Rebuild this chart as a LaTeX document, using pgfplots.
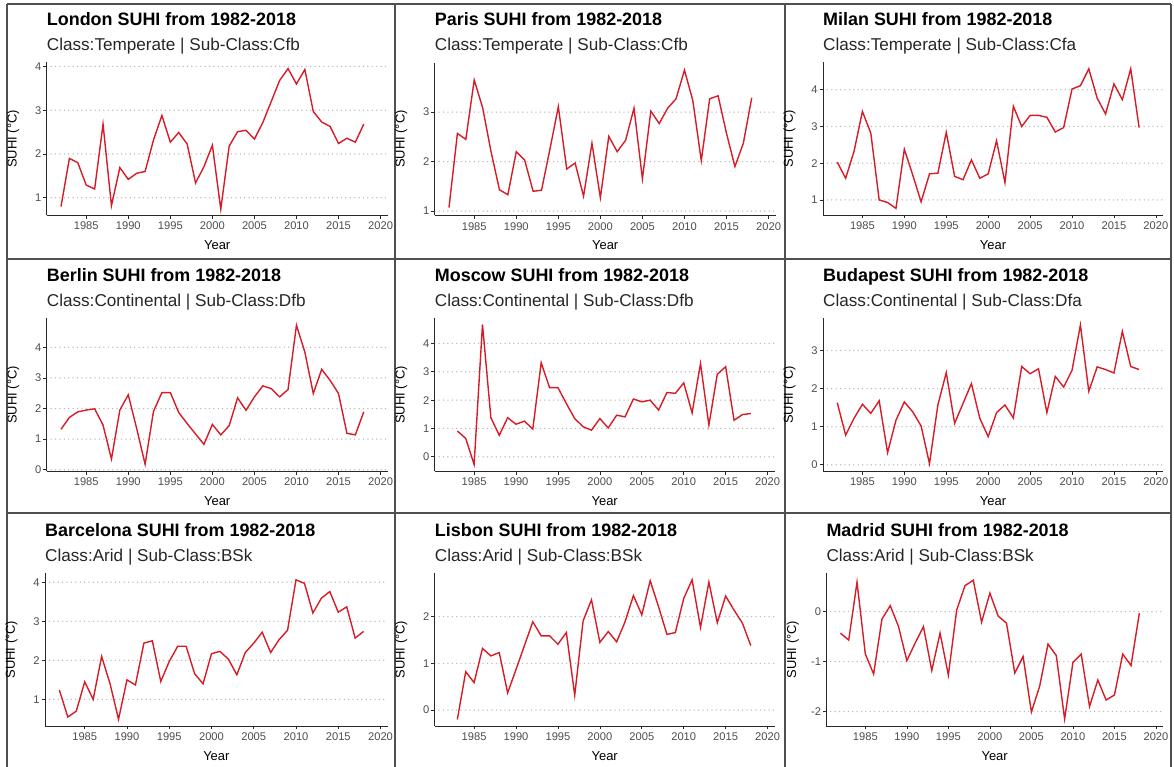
\documentclass[border=0pt]{standalone}
\usepackage{fontspec}
\setmainfont{Liberation Sans}
\usepackage{pgfplots}
\pgfplotsset{compat=1.18}
\definecolor{suhired}{RGB}{214,28,38}
\definecolor{ticktext}{RGB}{77,77,77}
\definecolor{axisline}{RGB}{40,40,40}
\definecolor{framecol}{RGB}{80,80,80}
\pgfplotsset{
  suhi/.style={
    scale only axis, height=152.8bp,
    xmin=1980.3, xmax=2020.85,
    axis lines=left,
    axis line style={-, draw=axisline, line width=0.8bp},
    xtick={1985,1990,...,2020},
    tick align=outside, major tick length=3.3bp,
    tick style={draw=axisline, line width=0.7bp},
    /pgf/number format/assume math mode=true,
    /pgf/number format/1000 sep={},
    tick label style={font=\fontsize{11.2}{12}\selectfont, text=ticktext},
    y tick label style={xshift=1.5bp},
    ymajorgrids,
    grid style={line width=1.5bp, line cap=round, dash pattern=on 0bp off 4.4bp, color=gray!55},
    xlabel={Year}, ylabel={SUHI (°C)},
    every axis x label/.style={at={(axis description cs:0.5,0)}, anchor=base, yshift=-34.3bp, font=\fontsize{13}{14}\selectfont},
    every axis y label/.style={at={(axis description cs:0,0.5)}, anchor=center, xshift=-33.5bp, rotate=90, font=\fontsize{13}{14}\selectfont},
  },
  suhiline/.style={draw=suhired, line width=1.4bp, mark=none},
}
\newcommand{\ptitle}[3]{%
  \node[anchor=base west, inner sep=0pt, font=\fontsize{18}{20}\selectfont\bfseries] at ([yshift=36.7bp]#1.north west) {#2};
  \node[anchor=base west, inner sep=0pt, font=\fontsize{17.2}{19}\selectfont, text=black!85] at ([yshift=12bp]#1.north west) {#3};
}
\begin{document}
\begin{tikzpicture}[x=1bp,y=1bp]
\useasboundingbox (0,0) rectangle (1174,767);
% frames
\begin{scope}[draw=framecol, line width=1.3bp]
\draw (7,0) -- (7,763);
\draw (395,0) -- (395,763);
\draw (785,0) -- (785,763);
\draw (1171,0) -- (1171,763);
\draw (7,763) -- (1171,763);
\draw (7,508) -- (1171,508);
\draw (7,254) -- (1171,254);
\end{scope}
\coordinate (pa1) at (46.7,551.7);
\coordinate (pa2) at (434.7,551.5);
\coordinate (pa3) at (823,552);
\coordinate (pb1) at (46.7,295.7);
\coordinate (pb2) at (434.7,295.7);
\coordinate (pb3) at (823,295.7);
\coordinate (pc1) at (45,41);
\coordinate (pc2) at (434.7,41);
\coordinate (pc3) at (826.3,41);

% London
\begin{axis}[suhi, name=a1, at={(pa1)}, anchor=south west, width=341bp,
  ymin=0.60, ymax=4.09, ytick={1,2,3,4}]
\addplot[suhiline] coordinates {(1982,0.80)(1983,1.90)(1984,1.80)(1985,1.29)(1986,1.20)(1987,2.68)(1988,0.82)(1989,1.69)(1990,1.42)(1991,1.56)(1992,1.60)(1993,2.32)(1994,2.88)(1995,2.27)(1996,2.49)(1997,2.23)(1998,1.34)(1999,1.71)(2000,2.20)(2001,0.74)(2002,2.18)(2003,2.51)(2004,2.54)(2005,2.34)(2006,2.72)(2007,3.20)(2008,3.68)(2009,3.95)(2010,3.60)(2011,3.93)(2012,2.97)(2013,2.73)(2014,2.63)(2015,2.24)(2016,2.36)(2017,2.27)(2018,2.68)};
\end{axis}
\ptitle{a1}{London SUHI from 1982-2018}{Class:Temperate | Sub-Class:Cfb}

% Paris
\begin{axis}[suhi, name=a2, at={(pa2)}, anchor=south west, width=341bp,
  ymin=0.91, ymax=4.0, ytick={1,2,3}]
\addplot[suhiline] coordinates {(1982,1.07)(1983,2.57)(1984,2.45)(1985,3.65)(1986,3.09)(1987,2.20)(1988,1.43)(1989,1.33)(1990,2.20)(1991,2.03)(1992,1.40)(1993,1.42)(1994,2.25)(1995,3.11)(1996,1.85)(1997,1.97)(1998,1.30)(1999,2.37)(2000,1.27)(2001,2.51)(2002,2.20)(2003,2.43)(2004,3.08)(2005,1.65)(2006,3.02)(2007,2.77)(2008,3.08)(2009,3.27)(2010,3.85)(2011,3.23)(2012,2.02)(2013,3.27)(2014,3.33)(2015,2.57)(2016,1.90)(2017,2.37)(2018,3.29)};
\end{axis}
\ptitle{a2}{Paris SUHI from 1982-2018}{Class:Temperate | Sub-Class:Cfb}

% Milan
\begin{axis}[suhi, name=a3, at={(pa3)}, anchor=south west, width=340bp,
  ymin=0.59, ymax=4.75, ytick={1,2,3,4}]
\addplot[suhiline] coordinates {(1982,2.03)(1983,1.59)(1984,2.32)(1985,3.41)(1986,2.82)(1987,1.00)(1988,0.93)(1989,0.77)(1990,2.38)(1991,1.68)(1992,0.95)(1993,1.71)(1994,1.73)(1995,2.84)(1996,1.64)(1997,1.55)(1998,2.09)(1999,1.59)(2000,1.71)(2001,2.61)(2002,1.47)(2003,3.55)(2004,3.00)(2005,3.30)(2006,3.30)(2007,3.25)(2008,2.85)(2009,2.97)(2010,4.02)(2011,4.11)(2012,4.57)(2013,3.77)(2014,3.34)(2015,4.16)(2016,3.73)(2017,4.57)(2018,2.97)};
\end{axis}
\ptitle{a3}{Milan SUHI from 1982-2018}{Class:Temperate | Sub-Class:Cfa}

% Berlin
\begin{axis}[suhi, name=b1, at={(pb1)}, anchor=south west, width=341bp,
  ymin=-0.05, ymax=4.94, ytick={0,1,2,3,4}]
\addplot[suhiline] coordinates {(1982,1.32)(1983,1.71)(1984,1.89)(1985,1.95)(1986,1.99)(1987,1.46)(1988,0.35)(1989,1.95)(1990,2.45)(1991,1.35)(1992,0.18)(1993,1.91)(1994,2.52)(1995,2.52)(1996,1.87)(1997,1.51)(1998,1.17)(1999,0.83)(2000,1.48)(2001,1.14)(2002,1.44)(2003,2.35)(2004,1.94)(2005,2.38)(2006,2.74)(2007,2.65)(2008,2.38)(2009,2.62)(2010,4.72)(2011,3.84)(2012,2.49)(2013,3.28)(2014,2.92)(2015,2.49)(2016,1.19)(2017,1.14)(2018,1.89)};
\end{axis}
\ptitle{b1}{Berlin SUHI from 1982-2018}{Class:Continental | Sub-Class:Dfb}

% Moscow
\begin{axis}[suhi, name=b2, at={(pb2)}, anchor=south west, width=340bp,
  ymin=-0.51, ymax=4.88, ytick={0,1,2,3,4}]
\addplot[suhiline] coordinates {(1983,0.91)(1984,0.65)(1985,-0.27)(1986,4.67)(1987,1.38)(1988,0.76)(1989,1.38)(1990,1.15)(1991,1.26)(1992,0.98)(1993,3.32)(1994,2.44)(1995,2.44)(1996,1.88)(1997,1.35)(1998,1.06)(1999,0.94)(2000,1.35)(2001,1.02)(2002,1.47)(2003,1.41)(2004,2.04)(2005,1.94)(2006,2.00)(2007,1.65)(2008,2.27)(2009,2.24)(2010,2.61)(2011,1.55)(2012,3.29)(2013,1.12)(2014,2.91)(2015,3.18)(2016,1.29)(2017,1.49)(2018,1.53)};
\end{axis}
\ptitle{b2}{Moscow SUHI from 1982-2018}{Class:Continental | Sub-Class:Dfb}

% Budapest
\begin{axis}[suhi, name=b3, at={(pb3)}, anchor=south west, width=340bp,
  ymin=-0.17, ymax=3.84, ytick={0,1,2,3}]
\addplot[suhiline] coordinates {(1982,1.63)(1983,0.78)(1984,1.22)(1985,1.59)(1986,1.35)(1987,1.68)(1988,0.32)(1989,1.17)(1990,1.65)(1991,1.39)(1992,1.02)(1993,0.03)(1994,1.57)(1995,2.42)(1996,1.09)(1997,1.61)(1998,2.13)(1999,1.22)(2000,0.74)(2001,1.37)(2002,1.57)(2003,1.23)(2004,2.58)(2005,2.39)(2006,2.52)(2007,1.37)(2008,2.32)(2009,2.04)(2010,2.48)(2011,3.67)(2012,1.93)(2013,2.57)(2014,2.50)(2015,2.41)(2016,3.50)(2017,2.58)(2018,2.50)};
\end{axis}
\ptitle{b3}{Budapest SUHI from 1982-2018}{Class:Continental | Sub-Class:Dfa}

% Barcelona
\begin{axis}[suhi, name=c1, at={(pc1)}, anchor=south west, width=342.7bp,
  ymin=0.32, ymax=4.23, ytick={1,2,3,4}]
\addplot[suhiline] coordinates {(1982,1.24)(1983,0.55)(1984,0.70)(1985,1.45)(1986,1.00)(1987,2.10)(1988,1.40)(1989,0.49)(1990,1.50)(1991,1.37)(1992,2.44)(1993,2.50)(1994,1.46)(1995,1.97)(1996,2.36)(1997,2.36)(1998,1.66)(1999,1.40)(2000,2.17)(2001,2.23)(2002,2.03)(2003,1.63)(2004,2.20)(2005,2.44)(2006,2.72)(2007,2.20)(2008,2.53)(2009,2.77)(2010,4.06)(2011,3.97)(2012,3.21)(2013,3.59)(2014,3.76)(2015,3.23)(2016,3.37)(2017,2.57)(2018,2.74)};
\end{axis}
\ptitle{c1}{Barcelona SUHI from 1982-2018}{Class:Arid | Sub-Class:BSk}

% Lisbon
\begin{axis}[suhi, name=c2, at={(pc2)}, anchor=south west, width=340bp,
  ymin=-0.34, ymax=2.93, ytick={0,1,2}]
\addplot[suhiline] coordinates {(1983,-0.20)(1984,0.82)(1985,0.59)(1986,1.32)(1987,1.16)(1988,1.23)(1989,0.37)(1990,0.87)(1991,1.38)(1992,1.89)(1993,1.59)(1994,1.59)(1995,1.41)(1996,1.66)(1997,0.32)(1998,1.91)(1999,2.36)(2000,1.45)(2001,1.68)(2002,1.46)(2003,1.89)(2004,2.45)(2005,2.04)(2006,2.77)(2007,2.21)(2008,1.62)(2009,1.66)(2010,2.39)(2011,2.79)(2012,1.77)(2013,2.74)(2014,1.87)(2015,2.44)(2016,2.14)(2017,1.86)(2018,1.38)};
\end{axis}
\ptitle{c2}{Lisbon SUHI from 1982-2018}{Class:Arid | Sub-Class:BSk}

% Madrid
\begin{axis}[suhi, name=c3, at={(pc3)}, anchor=south west, width=336.7bp,
  ymin=-2.29, ymax=0.77, ytick={-2,-1,0}]
\addplot[suhiline] coordinates {(1982,-0.43)(1983,-0.57)(1984,0.59)(1985,-0.85)(1986,-1.25)(1987,-0.15)(1988,0.12)(1989,-0.30)(1990,-0.98)(1991,-0.63)(1992,-0.30)(1993,-1.18)(1994,-0.43)(1995,-1.27)(1996,0.03)(1997,0.52)(1998,0.63)(1999,-0.21)(2000,0.37)(2001,-0.09)(2002,-0.23)(2003,-1.23)(2004,-0.90)(2005,-2.01)(2006,-1.49)(2007,-0.65)(2008,-0.88)(2009,-2.15)(2010,-1.02)(2011,-0.85)(2012,-1.90)(2013,-1.37)(2014,-1.77)(2015,-1.67)(2016,-0.85)(2017,-1.08)(2018,-0.03)};
\end{axis}
\ptitle{c3}{Madrid SUHI from 1982-2018}{Class:Arid | Sub-Class:BSk}
\end{tikzpicture}
\end{document}
